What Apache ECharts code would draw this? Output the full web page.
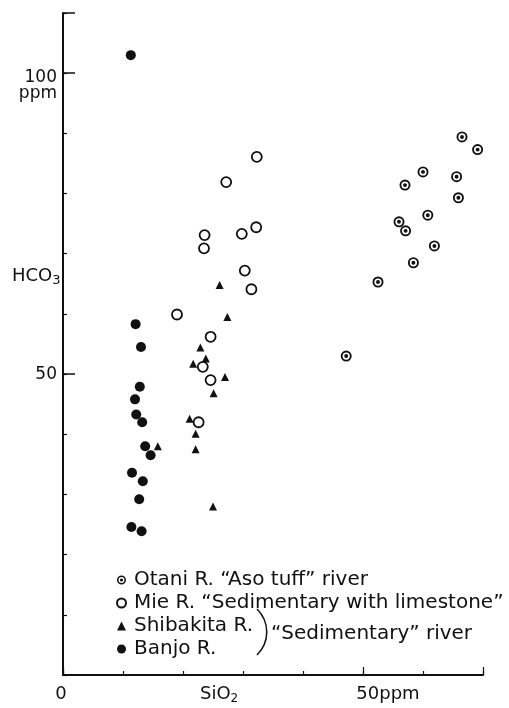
<!DOCTYPE html>
<html><head><meta charset="utf-8">
<script src="https://cdn.jsdelivr.net/npm/echarts@6/dist/echarts.min.js"></script>
<style>html,body{margin:0;padding:0;background:#fff}#c{width:509px;height:708px}</style>
</head><body><div id="c"></div>
<script>
// SiO2 (ppm), HCO3 (ppm)
const otaniSiO2 = [66.5, 69.1, 60.0, 65.6, 57.0, 65.9, 60.8, 56.0, 57.1, 61.9, 58.4, 52.5, 47.2];
const otaniHCO3 = [89.4, 87.3, 83.6, 82.8, 81.4, 79.3, 76.4, 75.3, 73.8, 71.3, 68.5, 65.3, 53.0];
const mieSiO2 = [19.0, 24.6, 23.3, 24.6, 22.6, 32.3, 27.2, 32.2, 23.6, 29.8, 23.5, 30.3, 31.4];
const mieHCO3 = [59.9, 56.2, 51.2, 49.0, 42.0, 86.1, 81.9, 74.4, 73.1, 73.3, 70.9, 67.2, 64.1];
const shibakitaSiO2 = [27.4, 26.1, 22.9, 23.8, 21.7, 27.0, 25.1, 21.1, 22.1, 15.8, 22.1, 25.0];
const shibakitaHCO3 = [59.5, 64.8, 54.4, 52.6, 51.7, 49.5, 46.8, 42.6, 40.1, 38.0, 37.5, 28.0];
const banjoSiO2 = [11.3, 12.1, 13.0, 12.8, 12.0, 12.2, 13.2, 13.7, 14.6, 11.5, 13.3, 12.7, 11.4, 13.1];
const banjoHCO3 = [103.0, 58.3, 54.5, 47.9, 45.8, 43.3, 42.0, 38.0, 36.5, 33.6, 32.2, 29.2, 24.6, 23.9];
const seriesNames = ['Otani R. \u201cAso tuff\u201d river', 'Mie R. \u201cSedimentary with limestone\u201d', 'Shibakita R.', 'Banjo R.'];
const xMin = 0, xMax = 70, yMin = 0, yMax = 110;

const pair = (xs, ys) => xs.map((x, i) => [x, ys[i]]);
const FONT = 'DejaVu Sans';
const ink = '#111';
const ringPath = 'path://M0,-10A10,10 0 1,1 0,10A10,10 0 1,1 0,-10Z M0,-6.6A6.6,6.6 0 1,0 0,6.6A6.6,6.6 0 1,0 0,-6.6Z M0,-3.6A3.6,3.6 0 1,1 0,3.6A3.6,3.6 0 1,1 0,-3.6Z';

const chart = echarts.init(document.getElementById('c'), null, {renderer: 'canvas'});
const baseX = {type: 'value', min: xMin, max: xMax, splitLine: {show: false}};
const baseY = {type: 'value', min: yMin, max: yMax, splitLine: {show: false}};
chart.setOption({
  animation: false,
  backgroundColor: '#fff',
  grid: {left: 63, right: 26, top: 13, bottom: 33},
  xAxis: [
    Object.assign({}, baseX, {
      interval: 10,
      axisLine: {lineStyle: {color: ink, width: 2}},
      axisTick: {inside: true, length: 4, lineStyle: {color: ink, width: 1.2}},
      axisLabel: {
        margin: 10, color: ink, fontFamily: FONT, fontSize: 18,
        formatter: v => v === 0 ? '0{pr|}' : (v === 50 ? '{pl|}50ppm' : ''),
        rich: {pl: {width: 50}, pr: {width: 4}}
      }
    }),
    Object.assign({}, baseX, {
      interval: 50, position: 'bottom',
      axisLine: {show: false},
      axisTick: {inside: true, length: 8, lineStyle: {color: ink, width: 1.2}},
      axisLabel: {show: false}
    })
  ],
  yAxis: [
    Object.assign({}, baseY, {
      interval: 10,
      axisLine: {lineStyle: {color: ink, width: 2}},
      axisTick: {inside: true, length: 4, lineStyle: {color: ink, width: 1.2}},
      axisLabel: {
        margin: 6, color: ink, fontFamily: FONT, fontSize: 17,
        formatter: v => v === 100 ? '{s|}\n{a|100}\n{a|ppm}' : (v === 50 ? '{a|50}' : ''),
        rich: {s: {height: 24, lineHeight: 24}, a: {lineHeight: 16, fontSize: 17, fontFamily: FONT, color: ink}}
      }
    }),
    Object.assign({}, baseY, {
      interval: 50, position: 'left',
      axisLine: {show: false},
      axisTick: {inside: true, length: 12, lineStyle: {color: ink, width: 1.5}},
      axisLabel: {show: false}
    })
  ],
  legend: {
    orient: 'vertical', left: 111, top: 565, itemGap: 3,
    itemWidth: 9, itemHeight: 9,
    textStyle: {fontFamily: FONT, fontSize: 20, color: ink, lineHeight: 19, padding: [0, 0, 0, 3]},
    data: seriesNames
  },
  series: [
    {name: seriesNames[0], type: 'scatter', data: pair(otaniSiO2, otaniHCO3), symbol: ringPath, symbolSize: 11, itemStyle: {color: ink, opacity: 1}},
    {name: seriesNames[1], type: 'scatter', data: pair(mieSiO2, mieHCO3), symbol: 'circle', symbolSize: 10, itemStyle: {color: '#fff', borderColor: ink, borderWidth: 1.8, opacity: 1}},
    {name: seriesNames[2], type: 'scatter', data: pair(shibakitaSiO2, shibakitaHCO3), symbol: 'triangle', symbolSize: 8, itemStyle: {color: ink, opacity: 1}},
    {name: seriesNames[3], type: 'scatter', data: pair(banjoSiO2, banjoHCO3), symbol: 'circle', symbolSize: 10, itemStyle: {color: ink, opacity: 1}}
  ],
  graphic: [
    {type: 'text', left: 12, top: 267, style: {text: 'HCO{sub|3}', fontFamily: FONT, fontSize: 18, fill: ink,
      rich: {sub: {fontSize: 13, fontFamily: FONT, fill: ink, padding: [10, 0, 0, 0]}}}},
    {type: 'text', left: 200, top: 685, style: {text: 'SiO{sub|2}', fontFamily: FONT, fontSize: 18, fill: ink,
      rich: {sub: {fontSize: 12, fontFamily: FONT, fill: ink, padding: [10, 0, 0, 0]}}}},
    {type: 'bezierCurve', shape: {x1: 257, y1: 609, x2: 257, y2: 655, cpx1: 270, cpy1: 622, cpx2: 270, cpy2: 642},
      style: {stroke: ink, lineWidth: 1.5, fill: null}},
    {type: 'text', left: 271, top: 624, style: {text: '\u201cSedimentary\u201d river', fontFamily: FONT, fontSize: 20, fill: ink}}
  ]
});
</script></body></html>
